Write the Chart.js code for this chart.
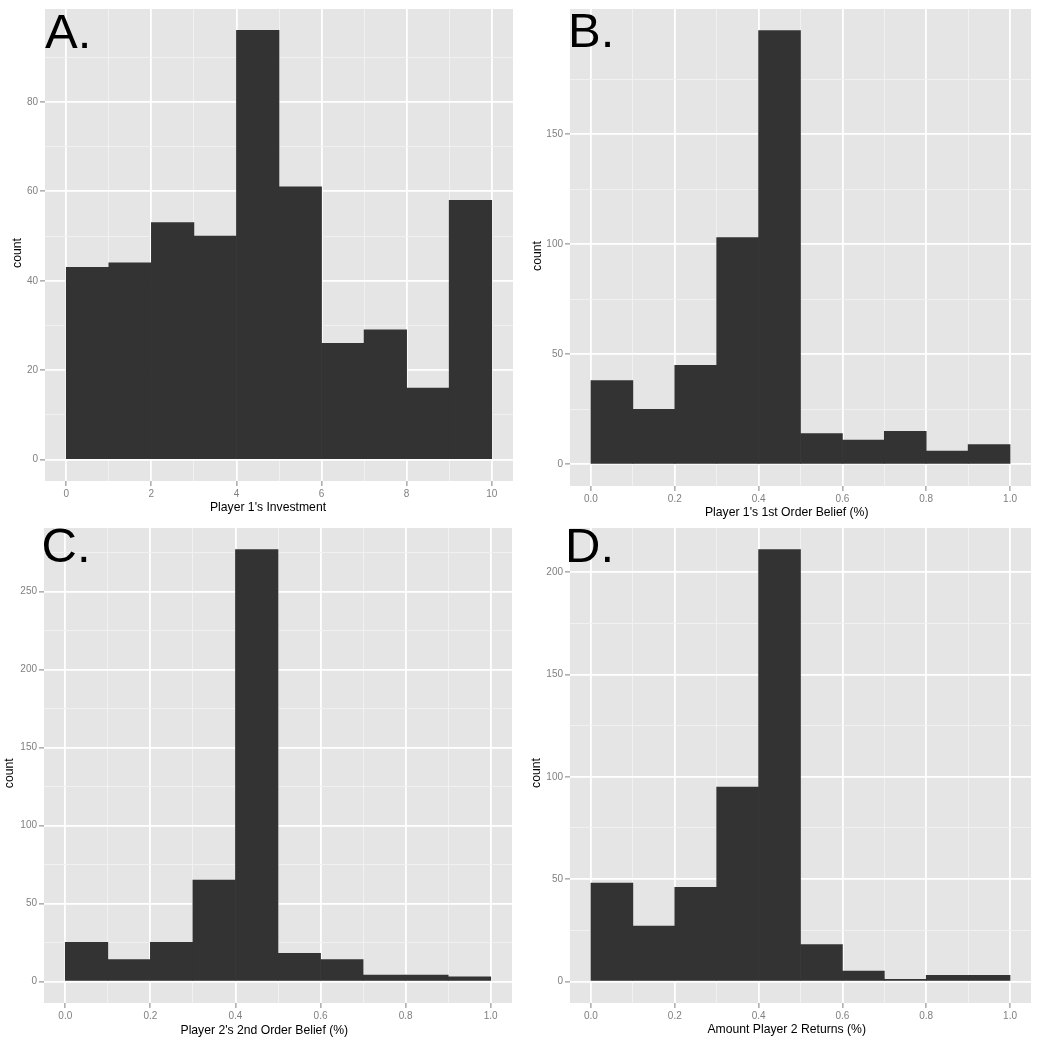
<!DOCTYPE html>
<html lang="en">
  <head>
    <meta charset="UTF-8" />
    <title>Trust game histograms</title>
    <script src="https://cdn.jsdelivr.net/npm/chart.js"></script>
    <style>
      body {
        margin: 0;
        background: #ffffff;
      }
      .panel {
        position: absolute;
      }
    </style>
  </head>
  <body>
    <div class="panel" style="left:0;top:0;width:520px;height:520px"><canvas id="chartA"></canvas></div>
    <div class="panel" style="left:520px;top:0;width:530px;height:520px"><canvas id="chartB"></canvas></div>
    <div class="panel" style="left:0;top:520px;width:520px;height:523px"><canvas id="chartC"></canvas></div>
    <div class="panel" style="left:520px;top:520px;width:530px;height:523px"><canvas id="chartD"></canvas></div>

    <script>
      // bin centres
      const binsA = [0.5, 1.5, 2.5, 3.5, 4.5, 5.5, 6.5, 7.5, 8.5, 9.5];
      const binsP = [0.05, 0.15, 0.25, 0.35, 0.45, 0.55, 0.65, 0.75, 0.85, 0.95];
      const binWidthA = 1;
      const binWidthP = 0.1;

      // counts
      const countsA = [43, 44, 53, 50, 96, 61, 26, 29, 16, 58];
      const countsB = [38, 25, 45, 103, 197, 14, 11, 15, 6, 9];
      const countsC = [25, 14, 25, 65, 277, 18, 14, 4, 4, 3];
      const countsD = [48, 27, 46, 95, 211, 18, 5, 1, 3, 3];

      // ticks (major carry labels, minor only grid lines)
      const xMajorA = [0, 2, 4, 6, 8, 10];
      const xMinorA = [1, 3, 5, 7, 9];
      const xMajorP = [0, 0.2, 0.4, 0.6, 0.8, 1];
      const xMinorP = [0.1, 0.3, 0.5, 0.7, 0.9];
      const yMajorA = [0, 20, 40, 60, 80];
      const yMinorA = [10, 30, 50, 70, 90];
      const yMajorB = [0, 50, 100, 150];
      const yMinorB = [25, 75, 125, 175];
      const yMajorC = [0, 50, 100, 150, 200, 250];
      const yMinorC = [25, 75, 125, 175, 225, 275];
      const yMajorD = [0, 50, 100, 150, 200];
      const yMinorD = [25, 75, 125, 175];

      Chart.defaults.font.family = "'Liberation Sans', Arial, sans-serif";

      // grey panel background
      const panelBg = {
        id: "panelBg",
        beforeDraw(chart) {
          const { ctx, chartArea: a } = chart;
          ctx.save();
          ctx.fillStyle = "#e5e5e5";
          ctx.fillRect(a.left, a.top, a.right - a.left, a.bottom - a.top);
          ctx.restore();
        },
      };

      // panel letter and axis titles
      const panelText = {
        id: "panelText",
        afterDraw(chart, args, o) {
          const ctx = chart.ctx;
          ctx.save();
          ctx.fillStyle = "#000";
          ctx.textBaseline = "alphabetic";
          ctx.font = "49px 'Liberation Sans', Arial, sans-serif";
          ctx.textAlign = "left";
          ctx.fillText(o.letter, o.letterPos[0], o.letterPos[1]);

          ctx.font = "12.2px 'Liberation Sans', Arial, sans-serif";
          ctx.textAlign = "center";
          ctx.fillText(o.xTitle, o.xTitlePos[0], o.xTitlePos[1]);

          ctx.translate(o.yTitlePos[0], o.yTitlePos[1]);
          ctx.rotate(-Math.PI / 2);
          ctx.fillText("count", 0, 0);
          ctx.restore();
        },
      };

      function axis(major, minor, min, max, size, isX, decimals) {
        const majorSet = new Set(major);
        const all = major.concat(minor).sort((a, b) => a - b);
        return {
          type: "linear",
          min: min,
          max: max,
          offset: false,
          border: { display: false },
          grid: {
            offset: false,
            color: (c) => (c.tick && majorSet.has(c.tick.value) ? "#ffffff" : "#f2f2f2"),
            lineWidth: (c) => (c.tick && majorSet.has(c.tick.value) ? 1.8 : 0.9),
            tickColor: (c) => (c.tick && majorSet.has(c.tick.value) ? "#7f7f7f" : "rgba(0,0,0,0)"),
            tickWidth: 1,
            tickLength: 5,
          },
          afterBuildTicks: (s) => {
            s.ticks = all.map((v) => ({ value: v }));
          },
          afterFit: (s) => {
            if (isX) s.height = size;
            else s.width = size;
          },
          ticks: {
            padding: 2,
            color: "#7f7f7f",
            font: { size: 10 },
            maxRotation: 0,
            autoSkip: false,
            callback: (v) => (majorSet.has(v) ? v.toFixed(decimals) : ""),
          },
        };
      }

      function makeChart(id, bins, width, counts, xMajor, xMinor, yMajor, yMinor, decimals, g, text) {
        const lo = bins[0] - width / 2;
        const hi = bins[bins.length - 1] + width / 2;
        const ymax = Math.max(...counts);
        return new Chart(document.getElementById(id), {
          type: "bar",
          data: {
            datasets: [
              {
                data: bins.map((x, i) => ({ x: x, y: counts[i] })),
                backgroundColor: "#333333",
                borderWidth: 0,
                barPercentage: 1,
                categoryPercentage: 1,
              },
            ],
          },
          options: {
            responsive: true,
            maintainAspectRatio: false,
            animation: false,
            events: [],
            layout: { padding: { top: g.padT, right: g.padR, left: 0, bottom: 0 } },
            plugins: {
              legend: { display: false },
              tooltip: { enabled: false },
              panelText: text,
            },
            scales: {
              x: axis(xMajor, xMinor, lo - 0.05 * (hi - lo), hi + 0.05 * (hi - lo), g.xH, true, decimals),
              y: axis(yMajor, yMinor, -0.05 * ymax, 1.05 * ymax, g.yW, false, 0),
            },
          },
          plugins: [panelBg, panelText],
        });
      }

      makeChart("chartA", binsA, binWidthA, countsA, xMajorA, xMinorA, yMajorA, yMinorA, 0,
        { yW: 45, xH: 39, padT: 9, padR: 7 },
        { letter: "A.", letterPos: [45, 48], xTitle: "Player 1's Investment", xTitlePos: [268, 511], yTitlePos: [20.7, 253] });

      makeChart("chartB", binsP, binWidthP, countsB, xMajorP, xMinorP, yMajorB, yMinorB, 1,
        { yW: 50, xH: 34, padT: 9, padR: 19 },
        { letter: "B.", letterPos: [48, 47], xTitle: "Player 1's 1st Order Belief (%)", xTitlePos: [266.7, 516], yTitlePos: [20.7, 256] });

      makeChart("chartC", binsP, binWidthP, countsC, xMajorP, xMinorP, yMajorC, yMinorC, 1,
        { yW: 44, xH: 40, padT: 6, padR: 8 },
        { letter: "C.", letterPos: [41.5, 42], xTitle: "Player 2's 2nd Order Belief (%)", xTitlePos: [264.3, 514.3], yTitlePos: [13.3, 253.3] });

      makeChart("chartD", binsP, binWidthP, countsD, xMajorP, xMinorP, yMajorD, yMinorD, 1,
        { yW: 50, xH: 40, padT: 6, padR: 19 },
        { letter: "D.", letterPos: [45, 42], xTitle: "Amount Player 2 Returns (%)", xTitlePos: [266.7, 512.7], yTitlePos: [20, 253] });
    </script>
  </body>
</html>
